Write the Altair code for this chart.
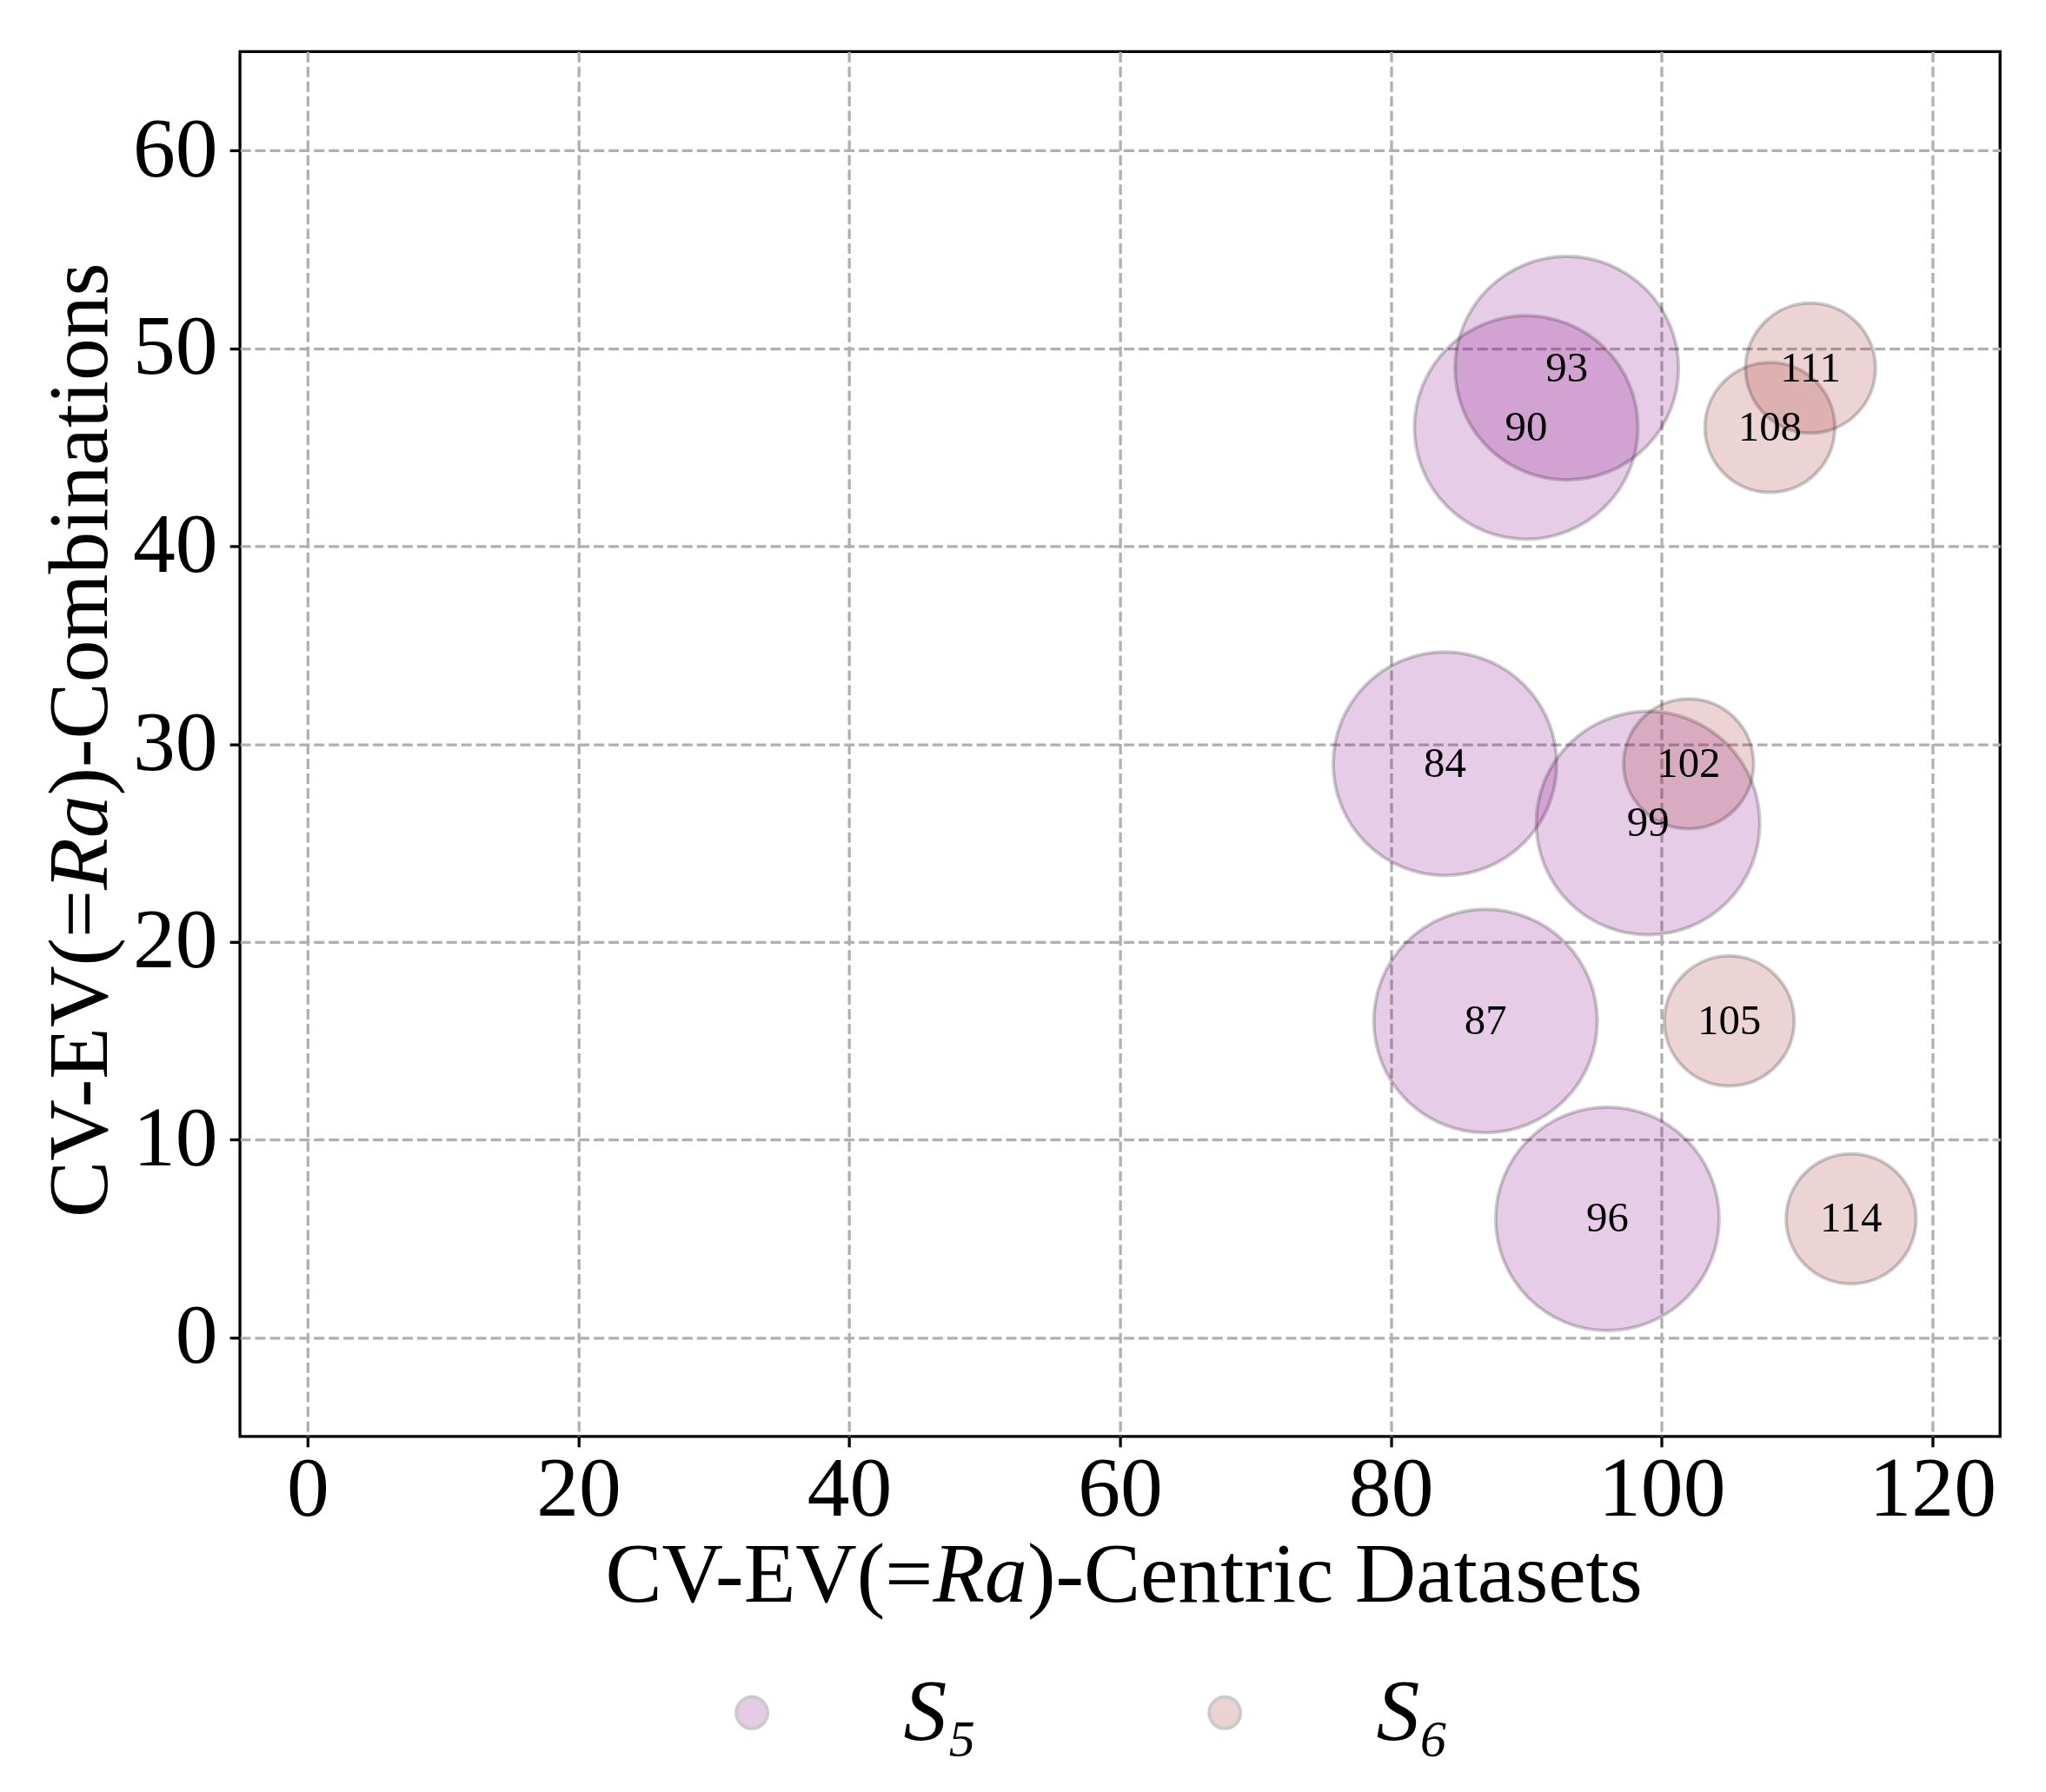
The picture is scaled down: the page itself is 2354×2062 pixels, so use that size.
import pandas as pd
import altair as alt

# bubble centres (label = x value)
s5_x = [84, 87, 90, 93, 96, 99]
s5_y = [29, 16, 46, 49, 6, 26]
s6_x = [102, 105, 108, 111, 114]
s6_y = [29, 16, 46, 49, 6]
series_names = ["S₅", "S₆"]
x_ticks = [0, 20, 40, 60, 80, 100, 120]
y_ticks = [0, 10, 20, 30, 40, 50, 60]

FONT = "Liberation Serif"
W, H = 2032, 1599
TITLE_SIZE = 98

df = pd.DataFrame({
    "x": s5_x + s6_x,
    "y": s5_y + s6_y,
    "series": [series_names[0]] * len(s5_x) + [series_names[1]] * len(s6_x),
})
df["label"] = df["x"].astype(str)

xs = alt.Scale(domain=[-5, 125], nice=False, zero=False)
ys = alt.Scale(domain=[-5, 65], nice=False, zero=False)

base = alt.Chart(df)
color = alt.Color(
    "series:N",
    scale=alt.Scale(domain=series_names, range=["purple", "brown"]),
    legend=alt.Legend(
        title=None, orient="none", direction="horizontal",
        legendX=541, legendY=1868,
        symbolType="circle", symbolSize=1296, symbolStrokeWidth=4,
        symbolStrokeColor="black", symbolOpacity=0.2,
        labelFont=FONT, labelFontSize=100, labelFontStyle="italic",
        labelColor="black", labelOffset=125, columnPadding=236,
    ),
)


# one bubble layer per series (vega size = square of the diameter)
def bubbles(name, diameter):
    return base.transform_filter(alt.datum.series == name).mark_circle(
        size=diameter ** 2, fillOpacity=0.2, strokeOpacity=0.2,
        stroke="black", strokeWidth=4,
    ).encode(
        x=alt.X("x:Q", scale=xs, axis=alt.Axis(values=x_ticks, labelPadding=2, title=None)),
        y=alt.Y("y:Q", scale=ys, axis=alt.Axis(values=y_ticks, labelPadding=14, title=None)),
        color=color,
    )


labels = base.mark_text(
    font=FONT, fontSize=49, color="black", align="center", baseline="middle"
).encode(
    x=alt.X("x:Q", scale=xs),
    y=alt.Y("y:Q", scale=ys),
    text="label:N",
)


# axis titles with an italic "Ra" in the middle (widths in em, Times metrics)
def piece(text, x, y, align, italic, angle=0):
    return alt.Chart(pd.DataFrame({"t": [text]})).mark_text(
        font=FONT, fontSize=TITLE_SIZE, color="black",
        fontStyle="italic" if italic else "normal",
        align=align, baseline="alphabetic", angle=angle,
    ).encode(x=alt.value(x), y=alt.value(y), text="t:N")


w_pre, w_ra = 3.952 * TITLE_SIZE, 1.111 * TITLE_SIZE
w_xpost, w_ypost = 7.248 * TITLE_SIZE, 6.278 * TITLE_SIZE

# x title
x_start = W / 2 - (w_pre + w_ra + w_xpost) / 2
x_base = 1790
x_title = [
    piece("CV-EV(=", x_start + w_pre, x_base, "right", False),
    piece("Ra", x_start + w_pre, x_base, "left", True),
    piece(")-Centric Datasets", x_start + w_pre + w_ra, x_base, "left", False),
]

# y title, reading upwards
y_start = H / 2 + (w_pre + w_ra + w_ypost) / 2
y_base = -154
y_title = [
    piece("CV-EV(=", y_base, y_start - w_pre, "right", False, 270),
    piece("Ra", y_base, y_start - w_pre, "left", True, 270),
    piece(")-Combinations", y_base, y_start - w_pre - w_ra, "left", False, 270),
]

chart = alt.layer(
    bubbles(series_names[0], 258), bubbles(series_names[1], 150),
    labels, *x_title, *y_title
).properties(
    width=W, height=H,
    autosize=alt.AutoSizeParams(type="none"),
    padding={"left": 269, "top": 48, "right": 45, "bottom": 407},
    background="white",
).configure_view(
    stroke="black", strokeWidth=3.3
).configure_axis(
    labelFont=FONT, labelFontSize=98, labelColor="black",
    tickColor="black", tickSize=12, tickWidth=3.3,
    domain=False,
    grid=True, gridColor="#b0b0b0", gridDash=[12, 5], gridWidth=3.3, gridOpacity=1,
)

chart.save("out.html", embed_options={"renderer": "svg", "actions": False})
